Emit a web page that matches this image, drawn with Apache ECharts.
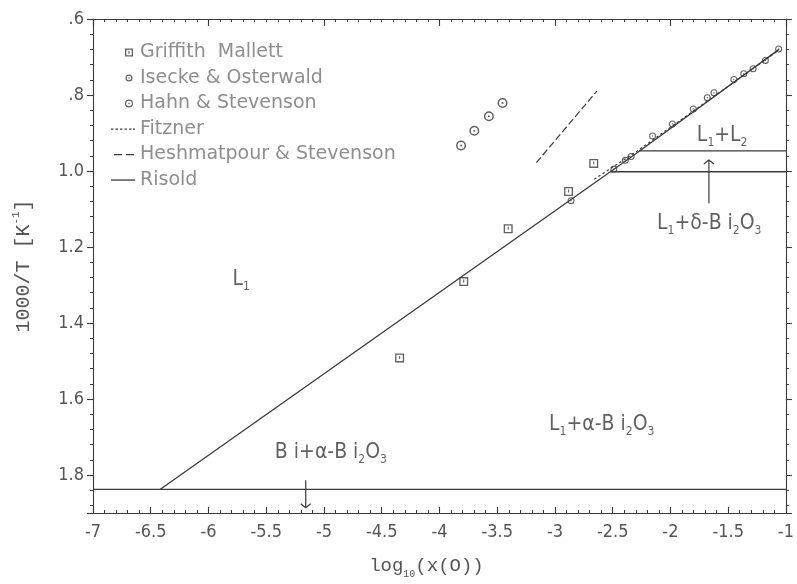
<!DOCTYPE html>
<html>
<head>
<meta charset="utf-8">
<title>Bi–O liquidus: 1000/T vs log10 x(O)</title>
<script src="https://cdn.jsdelivr.net/npm/echarts@6/dist/echarts.min.js"></script>
<style>
  html, body { margin: 0; padding: 0; background: #fff; }
  #chart { width: 797px; height: 584px; }
</style>
</head>
<body>
<div id="chart"></div>
<script>
// ---- data: x = log10(x(O)), y = 1000/T [1/K] ----
const griffithMallett = [[-4.345, 1.492], [-3.79, 1.291], [-3.405, 1.152], [-2.882, 1.054], [-2.664, 0.980]];
const iseckeOsterwald = [[-2.86, 1.078], [-2.49, 0.995], [-2.39, 0.972], [-2.34, 0.962], [-2.155, 0.908],
  [-1.983, 0.876], [-1.802, 0.837], [-1.681, 0.807], [-1.623, 0.794], [-1.451, 0.759],
  [-1.365, 0.744], [-1.284, 0.731], [-1.178, 0.709], [-1.063, 0.679]];
const hahnStevenson = [[-3.813, 0.933], [-3.698, 0.894], [-3.572, 0.856], [-3.454, 0.821]];
const fitzner = [[-2.66, 1.022], [-2.30, 0.950], [-1.07, 0.684]];
const heshmatpourStevenson = [[-3.161, 0.978], [-2.635, 0.789]];
const risoldLiquidus = [[-6.42, 1.838], [-2.52, 1.002], [-2.27, 0.948], [-1.06, 0.680]];
const risoldEutectic = [[-7, 1.838], [-1, 1.838]];
const risoldDelta = [[-2.52, 1.002], [-1, 1.002]];
const risoldMonotectic = [[-2.27, 0.947], [-1, 0.947]];

// phase-field labels (rich text) and where they sit
const regionNames = ['L{s|1}', 'L{s|1}+L{s|2}', 'L{s|1}+δ-B i{s|2}O{s|3}', 'L{s|1}+α-B i{s|2}O{s|3}', 'B i+α-B i{s|2}O{s|3}'];
const regionAnchors = [[-5.716, 1.285], [-1.552, 0.907], [-1.664, 1.137], [-2.595, 1.666], [-4.94, 1.741]];
// pointer arrows: [x, from y, to y]
const arrows = [[-1.667, 1.085, 0.971], [-5.158, 1.814, 1.886]];

const xTicks = { min: -7, max: -1, step: 0.5 };
const yTicks = { min: 0.6, max: 1.9, step: 0.2 };

// ---- styling ----
const INK = '#3a3a3a';
const TICK_FONT = '"Liberation Sans Narrow", "DejaVu Sans Condensed", "Roboto", sans-serif';
const TITLE_FONT = '"Liberation Mono", "DejaVu Sans Mono", monospace';

const squareSym = 'path://M0 0H10V10H0Z M1.5 1.5V8.5H8.5V1.5Z M4.4 2.8H5.6V6.2H4.4Z';
const ringSym = 'path://M5 0A5 5 0 1 1 5 10A5 5 0 1 1 5 0Z M5 1.5A3.5 3.5 0 1 0 5 8.5A3.5 3.5 0 1 0 5 1.5Z M5 4A1 1 0 1 1 5 6A1 1 0 1 1 5 4Z';

// legend icons laid out in a 26x12 box (leading moves fix the box extent)
const BOX = 'M0 0M26 12';
const iconSquare = 'path://' + BOX + 'M16 2H24V10H16Z M17.3 3.3V8.7H22.7V3.3Z M19.4 4.5H20.6V7.2H19.4Z';
const iconSmallRing = 'path://' + BOX + 'M20 2.5A3.5 3.5 0 1 1 20 9.5A3.5 3.5 0 1 1 20 2.5Z M20 3.7A2.3 2.3 0 1 0 20 8.3A2.3 2.3 0 1 0 20 3.7Z M20 5.3A0.7 0.7 0 1 1 20 6.7A0.7 0.7 0 1 1 20 5.3Z';
const iconRing = 'path://' + BOX + 'M20 2A4 4 0 1 1 20 10A4 4 0 1 1 20 2Z M20 3.2A2.8 2.8 0 1 0 20 8.8A2.8 2.8 0 1 0 20 3.2Z M20 5.2A0.8 0.8 0 1 1 20 6.8A0.8 0.8 0 1 1 20 5.2Z';
const iconDotted = 'path://' + BOX + 'M2 5.4h2.4v1.3h-2.4Z M6.5 5.4h2.4v1.3h-2.4Z M11 5.4h2.4v1.3h-2.4Z M15.5 5.4h2.4v1.3h-2.4Z M20 5.4h2.4v1.3h-2.4Z M24 5.4h2v1.3h-2Z';
const iconDashed = 'path://' + BOX + 'M5 5.4h8v1.3h-8Z M17 5.4h8v1.3h-8Z';
const iconSolid = 'path://' + BOX + 'M2 5.4h24v1.3h-24Z';

const legendItem = (name, icon) => ({ name, icon, itemStyle: { color: INK, borderWidth: 0 } });

const subRich = {
  s: { fontSize: 12, fontFamily: TICK_FONT, color: INK, verticalAlign: 'bottom', lineHeight: 27 }
};

function yLabel(v) {
  const k = Math.round((v - yTicks.min) / yTicks.step);
  if (Math.abs(yTicks.min + k * yTicks.step - v) > 1e-6) return '';
  const s = v.toFixed(1);
  return s.charAt(0) === '0' ? s.slice(1) : s;
}

const axisLineStyle = { color: INK, width: 1.1 };

const option = {
  animation: false,
  backgroundColor: '#fff',
  grid: { left: 93, right: 8, top: 19, bottom: 66, containLabel: false },
  legend: {
    orient: 'vertical',
    left: 104,
    top: 38,
    itemWidth: 26,
    itemHeight: 12,
    itemGap: 6.5,
    selectedMode: false,
    itemStyle: { borderWidth: 0 },
    textStyle: { color: '#8e8e8e', fontFamily: '"DejaVu Sans", sans-serif', fontSize: 19, lineHeight: 19, padding: [0, 0, 0, 0] },
    data: [
      legendItem('Griffith  Mallett', iconSquare),
      legendItem('Isecke & Osterwald', iconSmallRing),
      legendItem('Hahn & Stevenson', iconRing),
      legendItem('Fitzner', iconDotted),
      legendItem('Heshmatpour & Stevenson', iconDashed),
      legendItem('Risold', iconSolid)
    ]
  },
  xAxis: [{
    type: 'value',
    position: 'bottom',
    min: xTicks.min, max: xTicks.max, interval: xTicks.step,
    name: 'log{s|10}(x(O))',
    nameLocation: 'middle',
    nameGap: 40,
    nameTextStyle: {
      color: '#555', fontFamily: TITLE_FONT, fontSize: 19, padding: [0, 26, 0, 0],
      rich: { s: { fontSize: 10, fontFamily: TITLE_FONT, color: '#555', verticalAlign: 'bottom', lineHeight: 26 } }
    },
    axisLine: { show: true, lineStyle: axisLineStyle },
    axisTick: { show: true, inside: true, length: 6, lineStyle: axisLineStyle },
    minorTick: { show: true, splitNumber: 5, length: 3, lineStyle: { color: INK } },
    axisLabel: { color: '#555', fontFamily: TICK_FONT, fontSize: 18, margin: 10 },
    splitLine: { show: false }
  }, {
    type: 'value',
    position: 'top',
    min: xTicks.min, max: xTicks.max, interval: 1,
    axisLine: { show: true, lineStyle: axisLineStyle },
    axisTick: { show: true, inside: true, length: 7, lineStyle: axisLineStyle },
    minorTick: { show: true, splitNumber: 10, length: 3, lineStyle: { color: INK } },
    axisLabel: { show: false },
    splitLine: { show: false }
  }],
  yAxis: [{
    type: 'value',
    position: 'left',
    inverse: true,
    min: yTicks.min, max: yTicks.max, interval: yTicks.step,
    name: '1000/T [K{sup|-1}]',
    nameLocation: 'middle',
    nameGap: 56,
    nameRotate: 90,
    nameTextStyle: {
      color: '#555', fontFamily: TITLE_FONT, fontSize: 20,
      rich: { sup: { fontSize: 11, fontFamily: TITLE_FONT, color: '#555', verticalAlign: 'top', lineHeight: 26 } }
    },
    axisLine: { show: true, lineStyle: axisLineStyle },
    axisTick: { show: true, inside: false, length: 6, lineStyle: axisLineStyle },
    minorTick: { show: true, splitNumber: 5, length: 3, lineStyle: { color: INK } },
    axisLabel: { color: '#555', fontFamily: TICK_FONT, fontSize: 18, margin: 9, formatter: yLabel },
    splitLine: { show: false }
  }, {
    type: 'value',
    position: 'right',
    inverse: true,
    min: yTicks.min, max: yTicks.max, interval: yTicks.step,
    axisLine: { show: true, lineStyle: axisLineStyle },
    axisTick: { show: true, inside: false, length: 6, lineStyle: axisLineStyle },
    minorTick: { show: true, splitNumber: 5, length: 3, lineStyle: { color: INK } },
    axisLabel: { show: false },
    splitLine: { show: false }
  }],
  series: [
    {
      name: 'Risold', type: 'line', data: risoldLiquidus, symbol: 'none', z: 2,
      lineStyle: { color: INK, width: 1.3 }, itemStyle: { color: INK }
    },
    {
      name: 'Risold', type: 'line', data: risoldEutectic, symbol: 'none', z: 2,
      lineStyle: { color: INK, width: 1.3 }, itemStyle: { color: INK }
    },
    {
      name: 'Risold', type: 'line', data: risoldDelta, symbol: 'none', z: 2,
      lineStyle: { color: INK, width: 1.3 }, itemStyle: { color: INK }
    },
    {
      name: 'Risold', type: 'line', data: risoldMonotectic, symbol: 'none', z: 2,
      lineStyle: { color: INK, width: 1.3 }, itemStyle: { color: INK }
    },
    {
      name: 'Fitzner', type: 'line', data: fitzner, symbol: 'none', z: 3,
      lineStyle: { color: INK, width: 1.2, type: [2.5, 2.5] }, itemStyle: { color: INK }
    },
    {
      name: 'Heshmatpour & Stevenson', type: 'line', data: heshmatpourStevenson, symbol: 'none', z: 3,
      lineStyle: { color: INK, width: 1.2, type: [7, 3] }, itemStyle: { color: INK }
    },
    {
      name: 'Griffith  Mallett', type: 'scatter', data: griffithMallett, z: 4,
      symbol: squareSym, symbolSize: 9, itemStyle: { color: INK }
    },
    {
      name: 'Isecke & Osterwald', type: 'scatter', data: iseckeOsterwald, z: 4,
      symbol: ringSym, symbolSize: 7, itemStyle: { color: INK }
    },
    {
      name: 'Hahn & Stevenson', type: 'scatter', data: hahnStevenson, z: 4,
      symbol: ringSym, symbolSize: 10, itemStyle: { color: INK }
    },
    {
      // phase-field names
      type: 'scatter', z: 5, silent: true,
      symbolSize: 0,
      data: regionAnchors.map((p, i) => ({ value: p, name: regionNames[i] })),
      label: {
        show: true, position: 'inside',
        formatter: (p) => p.name,
        color: INK, fontFamily: TICK_FONT, fontSize: 21, lineHeight: 27,
        rich: subRich
      }
    },
    {
      // pointer arrows with open heads
      type: 'custom', z: 5, silent: true,
      data: arrows,
      encode: { x: 0, y: [1, 2] },
      renderItem: (params, api) => {
        const x = api.value(0);
        const p0 = api.coord([x, api.value(1)]);
        const p1 = api.coord([x, api.value(2)]);
        const dir = p1[1] < p0[1] ? 1 : -1;
        const st = { stroke: INK, lineWidth: 1.2, fill: null };
        return {
          type: 'group',
          children: [
            { type: 'line', shape: { x1: p0[0], y1: p0[1], x2: p1[0], y2: p1[1] }, style: st },
            { type: 'polyline', shape: { points: [[p1[0] - 5, p1[1] + dir * 4], [p1[0], p1[1]], [p1[0] + 5, p1[1] + dir * 4]] }, style: st }
          ]
        };
      }
    }
  ]
};

const chart = echarts.init(document.getElementById('chart'), null, { renderer: 'canvas' });
chart.setOption(option);
</script>
</body>
</html>
